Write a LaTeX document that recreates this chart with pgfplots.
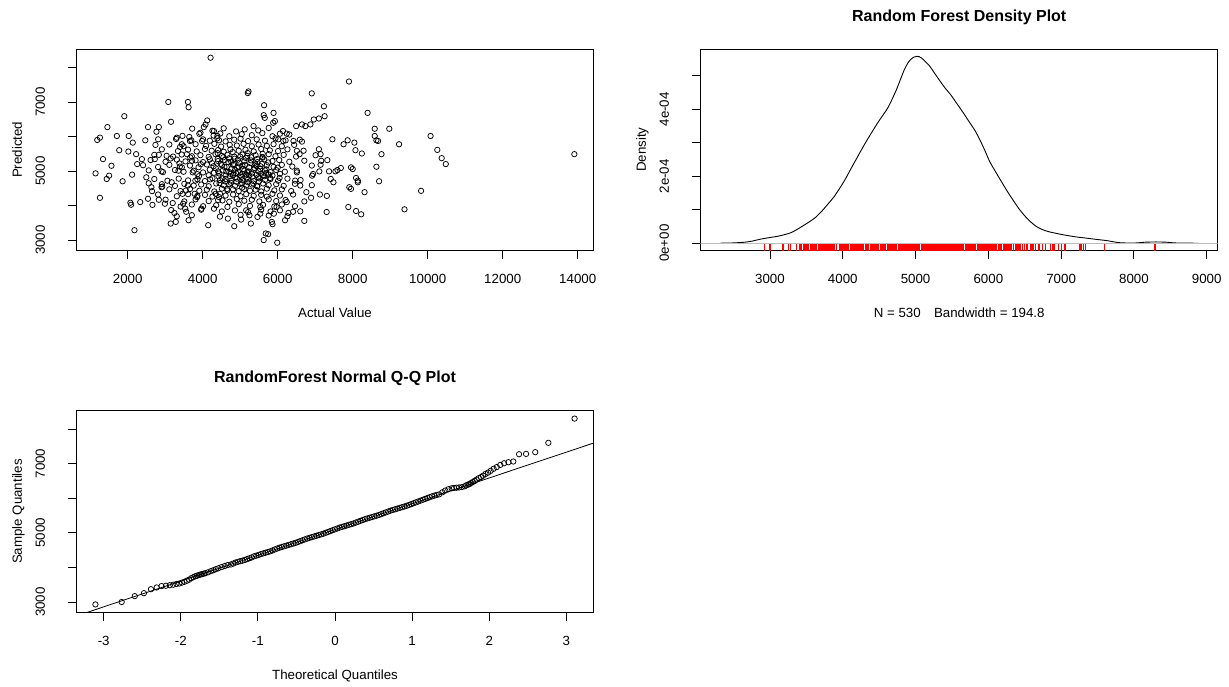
\documentclass[border=0pt]{standalone}
\usepackage{fontspec}
\setmainfont{Liberation Sans}
\usepackage{pgfplots}
\pgfplotsset{compat=1.18}
\usepackage{pgfplotstable}

\definecolor{rgray}{RGB}{190,190,190}
\definecolor{rred}{RGB}{255,0,0}

% Actual vs predicted (scatter); the predicted column also gives the rug
\pgfplotstableread[row sep=\\]{
x y\\
1143 4934\\ 1188 5902\\ 1260 5969\\ 1341 5346\\ 1441 4771\\ 1504 4867\\ 1567 5154\\ 1260 4225\\ 1459 6275\\ 1711 6017\\
1774 5605\\ 1864 4704\\ 1910 6591\\ 2027 6017\\ 2018 5566\\ 2135 5825\\ 2225 5490\\ 2253 5203\\ 2117 4896\\ 2379 5346\\
2072 4082\\ 2090 4024\\ 2180 3286\\ 2334 4101\\ 2469 5892\\ 2541 6275\\ 2496 4819\\ 2559 4647\\ 2632 4532\\ 2650 4417\\
2541 4197\\ 2722 5346\\ 2767 6141\\ 2830 6275\\ 2812 5921\\ 2740 5758\\ 2830 5471\\ 2902 4992\\ 2902 4532\\ 2920 4550\\
2830 4168\\ 2992 4053\\ 3083 7003\\ 3155 6429\\ 3146 5365\\ 3173 4675\\ 3038 5442\\ 3200 4072\\ 3245 3785\\ 3308 3689\\
3146 3478\\ 3281 3526\\ 3308 5969\\ 3398 5700\\ 3444 5777\\ 3380 5222\\ 3444 5107\\ 3353 5011\\ 3462 4340\\ 3480 4053\\
3534 3909\\ 3624 3574\\ 3552 4436\\ 3606 4580\\ 3606 7003\\ 3624 6850\\ 3642 5988\\ 3696 5892\\ 3940 6112\\ 3985 5873\\
3967 3909\\ 4030 6275\\ 4075 6352\\ 4120 6467\\ 4147 3430\\ 4301 3909\\ 4210 8287\\ 4671 3622\\ 4842 3401\\ 5023 3593\\
5284 3478\\ 5221 7310\\ 5203 7262\\ 5356 6304\\ 5681 3191\\ 5627 2999\\ 5744 3171\\ 5844 3526\\ 5862 3459\\ 5988 2922\\
5889 6687\\ 5636 6908\\ 5627 6620\\ 5654 6543\\ 6908 7253\\ 7233 6879\\ 7251 6591\\ 7098 6524\\ 7125 4321\\ 7305 3813\\
7459 5921\\ 7901 7597\\ 7883 3957\\ 8090 3842\\ 8226 3746\\ 8244 5509\\ 8316 4388\\ 8397 6687\\ 8587 6227\\ 8587 6017\\
8632 5892\\ 8677 5873\\ 8767 5490\\ 8632 5126\\ 8704 4704\\ 8975 6227\\ 9236 5777\\ 9381 3890\\ 9823 4427\\ 10076 6017\\
10256 5614\\ 10373 5375\\ 10482 5203\\ 13910 5490\\
6060 6084\\ 6241 6084\\ 6015 5921\\ 6150 5873\\ 6493 6304\\ 6647 6352\\ 6737 6304\\ 6872 6352\\ 6963 6496\\ 6421 5873\\
6647 5854\\ 6511 5586\\ 6584 5490\\ 6466 4723\\ 6511 4963\\ 6602 4580\\ 6602 3832\\ 6710 3555\\ 6764 4388\\ 6890 4225\\
6944 4915\\ 6917 4867\\ 7098 5634\\ 7143 5490\\ 7143 5183\\ 7161 5298\\ 7323 5317\\ 7369 4992\\ 7414 4771\\ 7486 4675\\
7540 4992\\ 7594 5030\\ 7684 5088\\ 7757 5777\\ 7865 5892\\ 7955 5107\\ 8000 5059\\ 7910 4532\\ 7955 4484\\ 8045 5825\\
8073 5605\\ 8090 4800\\ 8136 4723\\ 8136 4675\\ 5880 6400\\ 5925 6448\\ 6241 4101\\ 6196 3574\\ 6286 3785\\ 5537 3765\\
5537 3957\\ 5898 3765\\ 5970 3957\\ 5158 3861\\ 5248 3718\\ 4301 6161\\ 4391 6017\\ 4436 5892\\ 4346 4340\\ 4436 4245\\
4527 4149\\ 3579 5490\\ 3669 5394\\ 3714 5298\\ 3732 4963\\ 3804 4723\\ 3786 4340\\ 3850 4245\\
3720 6230\\ 4260 6170\\ 4560 6240\\ 4890 6150\\ 5120 6210\\ 5480 6180\\ 5760 6250\\ 6140 6160\\
3460 6020\\ 3910 6080\\ 4290 6030\\ 4470 6090\\ 4710 6010\\ 5040 6070\\ 5310 6040\\ 5590 6100\\ 5860 6010\\ 6310 6060\\
3290 5930\\ 3660 5870\\ 4010 5920\\ 4190 5880\\ 4390 5950\\ 4610 5860\\ 4840 5910\\ 5010 5940\\ 5210 5870\\ 5440 5920\\
5660 5880\\ 5940 5950\\ 6210 5890\\ 6590 5910\\
3110 5770\\ 3490 5720\\ 3810 5780\\ 4090 5730\\ 4310 5790\\ 4490 5710\\ 4720 5760\\ 4910 5740\\ 5090 5790\\ 5310 5720\\
5490 5770\\ 5710 5730\\ 5890 5780\\ 6110 5720\\ 6440 5760\\
2910 5630\\ 3340 5580\\ 3610 5620\\ 3840 5570\\ 4060 5640\\ 4240 5590\\ 4410 5610\\ 4560 5560\\ 4740 5630\\ 4960 5590\\
5140 5620\\ 5360 5570\\ 5560 5640\\ 5790 5600\\ 6010 5580\\ 6260 5630\\ 6690 5590\\
2710 5470\\ 3210 5420\\ 3440 5480\\ 3710 5430\\ 3940 5460\\ 4160 5410\\ 4340 5490\\ 4510 5440\\ 4660 5470\\ 4840 5420\\
5060 5480\\ 5190 5440\\ 5410 5460\\ 5590 5410\\ 5760 5490\\ 5940 5430\\ 6160 5470\\ 6490 5420\\ 7010 5460\\
2610 5320\\ 3010 5270\\ 3310 5330\\ 3540 5280\\ 3810 5310\\ 4010 5260\\ 4190 5340\\ 4410 5290\\ 4590 5320\\ 4760 5270\\
4940 5330\\ 5110 5280\\ 5290 5310\\ 5460 5260\\ 5640 5340\\ 5860 5290\\ 6040 5320\\ 6310 5270\\ 6710 5300\\
2410 5170\\ 2810 5120\\ 3110 5180\\ 3390 5130\\ 3660 5160\\ 3890 5110\\ 4110 5190\\ 4290 5140\\ 4510 5170\\ 4640 5120\\
4810 5180\\ 4960 5130\\ 5060 5160\\ 5240 5110\\ 5410 5190\\ 5540 5140\\ 5710 5170\\ 5890 5120\\ 6110 5180\\ 6390 5130\\
6910 5160\\
2560 5020\\ 2940 4970\\ 3260 5030\\ 3490 4980\\ 3760 5010\\ 4010 4960\\ 4190 5040\\ 4410 4990\\ 4540 5020\\ 4710 4970\\
4860 5030\\ 4940 4980\\ 5110 5010\\ 5190 4960\\ 5360 5040\\ 5490 4990\\ 5660 5020\\ 5810 4970\\ 5960 5030\\ 6190 4980\\
6510 5010\\ 7110 4990\\
3860 4910\\ 4160 4880\\ 4440 4930\\ 4610 4870\\ 4740 4920\\ 4810 4890\\ 4890 4940\\ 5010 4880\\ 5060 4920\\ 5160 4900\\
5240 4870\\ 5310 4930\\ 5440 4890\\ 5560 4920\\ 5610 4880\\ 5690 4940\\ 5760 4900\\ 5860 4870\\ 6060 4920\\
2710 4770\\ 3060 4720\\ 3360 4780\\ 3610 4730\\ 3860 4760\\ 4060 4710\\ 4260 4790\\ 4460 4740\\ 4610 4770\\ 4760 4720\\
4910 4780\\ 5060 4730\\ 5210 4760\\ 5360 4710\\ 5510 4790\\ 5660 4740\\ 5810 4770\\ 6010 4720\\ 6260 4780\\ 6610 4740\\
2910 4620\\ 3260 4570\\ 3510 4630\\ 3760 4580\\ 3960 4610\\ 4160 4560\\ 4360 4640\\ 4560 4590\\ 4710 4620\\ 4860 4570\\
5010 4630\\ 5160 4580\\ 5310 4610\\ 5460 4560\\ 5610 4640\\ 5760 4590\\ 5960 4620\\ 6160 4570\\ 6460 4630\\ 6910 4590\\
3110 4470\\ 3410 4420\\ 3660 4480\\ 3910 4430\\ 4110 4460\\ 4310 4410\\ 4510 4490\\ 4660 4440\\ 4810 4470\\ 4960 4420\\
5110 4480\\ 5260 4430\\ 5410 4460\\ 5560 4410\\ 5710 4490\\ 5910 4440\\ 6110 4470\\ 6360 4420\\
2810 4320\\ 3310 4270\\ 3610 4330\\ 3860 4280\\ 4060 4310\\ 4260 4260\\ 4460 4340\\ 4610 4290\\ 4810 4320\\ 5010 4270\\
5160 4330\\ 5360 4280\\ 5560 4310\\ 5710 4260\\ 5860 4340\\ 6060 4290\\ 6410 4320\\ 7310 4280\\
3010 4170\\ 3510 4120\\ 3810 4180\\ 4160 4130\\ 4410 4160\\ 4710 4110\\ 4910 4190\\ 5110 4140\\ 5310 4170\\ 5510 4120\\
5760 4180\\ 5960 4130\\ 6210 4160\\ 6710 4120\\
2660 4020\\ 3410 3970\\ 3710 4030\\ 4010 3980\\ 4360 4010\\ 4660 3960\\ 4960 4040\\ 5260 3990\\ 5610 4020\\ 5910 3970\\
6110 4030\\ 6460 3980\\
3160 3870\\ 3560 3820\\ 3960 3880\\ 4510 3830\\ 4860 3860\\ 5210 3810\\ 5560 3880\\ 5810 3830\\ 6060 3860\\ 6410 3820\\
3710 3720\\ 4460 3680\\ 5010 3730\\ 5460 3670\\ 5760 3710\\ 6260 3690\\
4350 5080\\ 4420 4850\\ 4480 5210\\ 4530 4790\\ 4580 5120\\ 4630 4990\\ 4680 5260\\ 4720 4860\\ 4770 5060\\ 4830 5210\\
4870 4810\\ 4920 5090\\ 4980 5240\\ 5030 4830\\ 5080 5060\\ 5130 5180\\ 5170 4790\\ 5220 4990\\ 5270 5230\\ 5330 4840\\
5380 5090\\ 5430 5150\\ 5480 4820\\ 5530 5060\\ 5580 5210\\ 5640 4850\\ 4400 5350\\ 4550 5400\\ 4700 5370\\ 4850 5360\\
5000 5420\\ 5150 5380\\ 5300 5400\\ 5450 5350\\ 5600 5390\\ 4450 4650\\ 4600 4700\\ 4750 4660\\ 4900 4690\\ 5050 4650\\
5200 4680\\ 5350 4640\\ 5500 4700\\ 4300 4950\\ 5700 5050\\ 5750 5250\\ 4250 5230\\ 4200 4760\\ 5800 4800\\ 3950 5200\\
3900 4850\\ 6000 5100\\ 6050 4800\\ 4650 4480\\ 5050 4520\\ 5450 4560\\ 4800 5550\\ 5200 5520\\ 5600 5500\\ 4400 5520\\
}\scatterdata

% Kernel density estimate of the predicted values
\pgfplotstableread[row sep=\\]{
x d\\
2316 0\\ 2450 0.5e-6\\ 2550 1.5e-6\\ 2650 3e-6\\ 2750 6e-6\\ 2866 1.2e-5\\ 3000 1.7e-5\\ 3134 2.2e-5\\
3294 3.2e-5\\ 3454 5.2e-5\\ 3614 7.5e-5\\ 3721 9.8e-5\\ 3800 1.18e-4\\ 3881 1.39e-4\\ 4015 1.84e-4\\
4149 2.37e-4\\ 4309 2.99e-4\\ 4469 3.56e-4\\ 4560 3.85e-4\\ 4629 4.08e-4\\ 4736 4.58e-4\\ 4843 5.17e-4\\
4900 5.40e-4\\ 4939 5.50e-4\\ 4980 5.56e-4\\ 5014 5.58e-4\\ 5050 5.57e-4\\ 5083 5.53e-4\\ 5130 5.43e-4\\
5190 5.30e-4\\ 5260 5.08e-4\\ 5324 4.88e-4\\ 5400 4.65e-4\\ 5484 4.43e-4\\ 5564 4.18e-4\\ 5644 3.93e-4\\
5751 3.58e-4\\ 5820 3.35e-4\\ 5885 3.08e-4\\ 5950 2.78e-4\\ 6018 2.44e-4\\ 6100 2.13e-4\\ 6179 1.84e-4\\
6260 1.55e-4\\ 6339 1.29e-4\\ 6420 1.03e-4\\ 6499 8.2e-5\\ 6580 6.4e-5\\ 6659 5.0e-5\\ 6740 4.1e-5\\
6819 3.5e-5\\ 6920 3.0e-5\\ 7033 2.5e-5\\ 7200 1.9e-5\\ 7354 1.5e-5\\ 7500 1.1e-5\\ 7621 8e-6\\
7700 5e-6\\ 7781 2e-6\\ 7850 1e-6\\ 7950 0.5e-6\\ 8050 1e-6\\ 8150 3e-6\\ 8300 3.8e-6\\ 8450 3e-6\\
8550 1e-6\\ 8700 0.2e-6\\ 8884 0\\
}\densdata

% Normal Q-Q: theoretical quantile, sample quantile
\pgfplotstableread[row sep=\\]{
z s\\
-3.107 2930\\ -2.767 3000\\ -2.597 3170\\ -2.478 3255\\ -2.387 3370\\ -2.313 3420\\ -2.249 3460\\ -2.193 3470\\
-2.143 3485\\ -2.098 3500\\ -2.057 3520\\ -2.019 3535\\ -1.985 3560\\ -1.952 3585\\ -1.921 3615\\ -1.892 3645\\
-1.864 3690\\ -1.837 3720\\ -1.812 3745\\ -1.789 3760\\ -1.766 3780\\ -1.744 3795\\ -1.723 3805\\ -1.702 3820\\
-1.682 3832\\ -1.645 3860\\ -1.609 3892\\ -1.576 3920\\ -1.544 3950\\ -1.513 3975\\ -1.470 4010\\ -1.430 4040\\
-1.392 4068\\
-1.35 4085\\ -1.32 4110\\ -1.29 4140\\ -1.26 4160\\ -1.23 4180\\ -1.20 4195\\ -1.17 4215\\ -1.14 4240\\
-1.11 4265\\ -1.08 4290\\ -1.05 4320\\ -1.02 4340\\ -0.99 4360\\ -0.96 4385\\ -0.93 4405\\ -0.90 4425\\
-0.87 4445\\ -0.84 4465\\ -0.81 4490\\ -0.78 4520\\ -0.75 4545\\ -0.72 4570\\ -0.69 4590\\ -0.66 4610\\
-0.63 4630\\ -0.60 4650\\ -0.57 4670\\ -0.54 4690\\ -0.51 4710\\ -0.48 4735\\ -0.45 4760\\ -0.42 4785\\
-0.39 4810\\ -0.36 4835\\ -0.33 4855\\ -0.30 4875\\ -0.27 4895\\ -0.24 4915\\ -0.21 4935\\ -0.18 4955\\
-0.15 4975\\ -0.12 5000\\ -0.09 5025\\ -0.06 5050\\ -0.03 5075\\ 0.00 5100\\ 0.03 5125\\ 0.06 5150\\
0.09 5170\\ 0.12 5190\\ 0.15 5210\\ 0.18 5230\\ 0.21 5250\\ 0.24 5270\\ 0.27 5295\\ 0.30 5320\\
0.33 5345\\ 0.36 5370\\ 0.39 5395\\ 0.42 5415\\ 0.45 5435\\ 0.48 5455\\ 0.51 5475\\ 0.54 5495\\
0.57 5515\\ 0.60 5540\\ 0.63 5565\\ 0.66 5590\\ 0.69 5615\\ 0.72 5640\\ 0.75 5660\\ 0.78 5680\\
0.81 5700\\ 0.84 5720\\ 0.87 5740\\ 0.90 5760\\ 0.93 5780\\ 0.96 5805\\ 0.99 5830\\ 1.02 5855\\
1.05 5880\\ 1.08 5905\\ 1.11 5930\\ 1.14 5955\\ 1.17 5980\\ 1.20 6005\\ 1.23 6030\\ 1.26 6055\\
1.29 6075\\ 1.32 6095\\ 1.35 6110\\
1.392 6170\\ 1.430 6220\\ 1.470 6258\\ 1.513 6285\\ 1.544 6298\\ 1.576 6304\\ 1.609 6310\\ 1.645 6320\\
1.682 6345\\ 1.702 6370\\ 1.723 6390\\ 1.744 6410\\ 1.766 6440\\ 1.789 6470\\ 1.812 6500\\ 1.837 6540\\
1.864 6580\\ 1.892 6610\\ 1.921 6650\\ 1.952 6700\\ 1.985 6740\\ 2.019 6790\\ 2.057 6850\\ 2.098 6900\\
2.143 6960\\ 2.193 7010\\ 2.249 7040\\ 2.313 7060\\ 2.387 7270\\ 2.478 7280\\ 2.597 7330\\ 2.767 7600\\
3.107 8300\\
}\qqdata

\pgfplotsset{
  rbase/.style={
    scale only axis, anchor=south west,
    axis line style={black, line width=0.9pt},
    tick align=outside, major tick length=8.5pt,
    tick style={black, line width=0.9pt},
    xtick pos=bottom, ytick pos=left,
    tick label style={font=\fontsize{13.3}{16}\selectfont, text=black},
    xticklabel style={anchor=center, yshift=-20pt},
    yticklabel style={xshift=-28pt, rotate=90, anchor=center},
    scaled ticks=false,
    clip=true,
  },
  rpts/.style={only marks, mark=o, mark size=2.7pt, black,
    mark options={line width=0.75pt}},
}

\begin{document}
\begin{tikzpicture}[x=1pt,y=1pt]
\useasboundingbox[fill=white] (0,0) rectangle (1229,687);

% ---------- Scatter: Actual vs Predicted ----------
\begin{axis}[rbase, at={(76.7pt,436.3pt)}, width=516.6pt, height=201.7pt,
  xmin=640, xmax=14416, ymin=2691, ymax=8540,
  xtick={2000,4000,6000,8000,10000,12000,14000},
  xticklabels={2000,4000,6000,8000,10000,12000,14000},
  ytick={3000,4000,5000,6000,7000,8000},
  yticklabels={3000,,5000,,7000,}]
\addplot[rpts] table[x=x, y=y] {\scatterdata};
\end{axis}

% ---------- Density ----------
\begin{axis}[rbase, at={(700.7pt,436.3pt)}, width=517pt, height=201.7pt,
  xmin=2048, xmax=9151, ymin=-2.232e-5, ymax=5.80e-4,
  xtick={3000,4000,5000,6000,7000,8000,9000},
  xticklabels={3000,4000,5000,6000,7000,8000,9000},
  ytick={0,0.0001,0.0002,0.0003,0.0004,0.0005},
  yticklabels={0e+00,,2e-04,,4e-04,}]
\addplot[black, line width=0.9pt, smooth, tension=0.4] table[x=x, y=d] {\densdata};
\addplot[rgray, line width=0.9pt] coordinates {(2000,0) (9200,0)};
\addplot[only marks, mark=|, mark size=3.2pt, rred, mark options={line width=1pt}]
  table[x=y, y expr=-1.3e-5] {\scatterdata};
\addplot[only marks, mark=|, mark size=3.2pt, rred, mark options={line width=1pt}]
  table[x=s, y expr=-1.3e-5] {\qqdata};
\end{axis}

% ---------- Normal Q-Q ----------
\begin{axis}[rbase, at={(76.7pt,74.3pt)}, width=516.6pt, height=202.4pt,
  xmin=-3.35, xmax=3.35, ymin=2691, ymax=8540,
  xtick={-3,-2,-1,0,1,2,3},
  xticklabels={-3,-2,-1,0,1,2,3},
  ytick={3000,4000,5000,6000,7000,8000},
  yticklabels={3000,,5000,,7000,}]
\addplot[black, line width=0.8pt] coordinates {(-3.4,2562) (3.4,7628)};
\addplot[rpts] table[x=z, y=s] {\qqdata};
\end{axis}

% ---------- Titles and axis labels ----------
\begin{scope}[every node/.style={font=\fontsize{13.3}{16}\selectfont, inner sep=0pt}]
\node[anchor=base] at (335,369) {Actual Value};
\node[anchor=base, rotate=90] at (21.8,537.2) {Predicted};
\node[anchor=base] at (959.2,369) {N = 530\quad Bandwidth = 194.8};
\node[anchor=base, rotate=90] at (645.8,537.2) {Density};
\node[anchor=base] at (335,7) {Theoretical Quantiles};
\node[anchor=base, rotate=90] at (21.8,175.5) {Sample Quantiles};
\node[anchor=base, font=\fontsize{16}{19}\selectfont\bfseries] at (959.2,665.2) {Random Forest Density Plot};
\node[anchor=base, font=\fontsize{16}{19}\selectfont\bfseries] at (335,304.2) {RandomForest Normal Q-Q Plot};
\end{scope}
\end{tikzpicture}
\end{document}
